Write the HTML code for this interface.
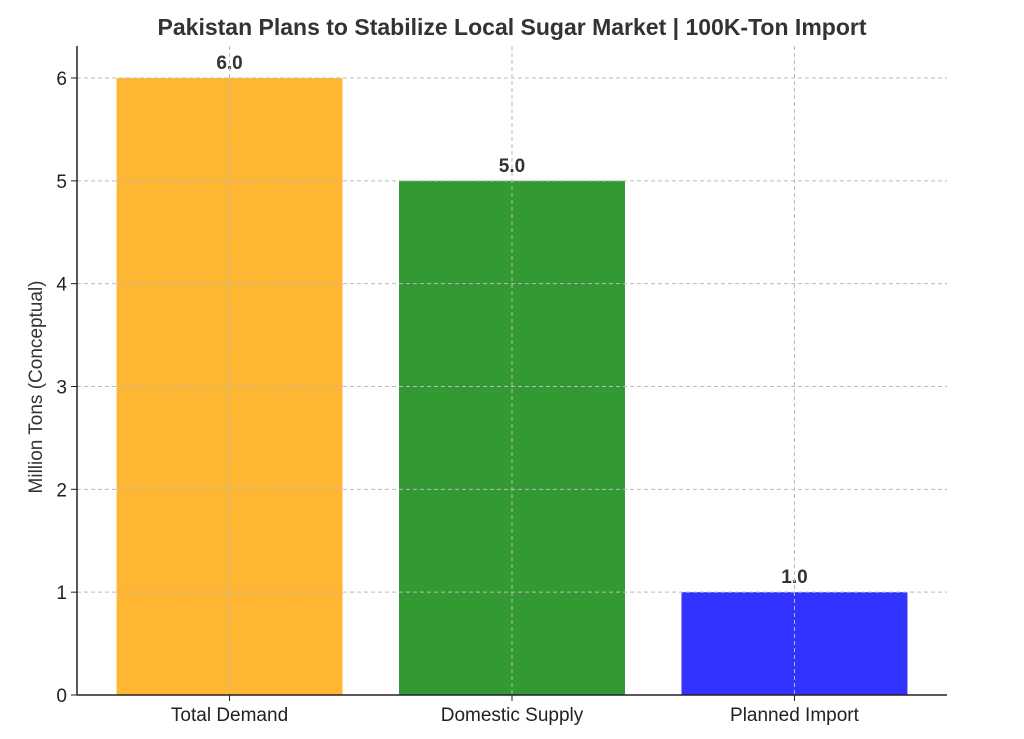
<!DOCTYPE html>
<html><head><meta charset="utf-8"><style>
html,body{margin:0;padding:0;background:#fff;}
svg{display:block;font-family:"Liberation Sans","DejaVu Sans",sans-serif;}
</style></head><body>
<svg id="chart" width="1024" height="739" viewBox="0 0 1024 739">
<text x="512" y="35" text-anchor="middle" font-size="23" font-weight="bold" fill="#333">Pakistan Plans to Stabilize Local Sugar Market | 100K-Ton Import</text>
<text transform="translate(42,387) rotate(-90)" text-anchor="middle" font-size="19" fill="#333">Million Tons (Conceptual)</text>
<g id="bars"></g>
<g id="grid"></g>
<g id="ticks"></g>
<line x1="77" y1="695" x2="947" y2="695" stroke="#222" stroke-width="1.5"/>
<line x1="77" y1="46" x2="77" y2="695" stroke="#222" stroke-width="1.5"/>
</svg>
<script>
const categories = ["Total Demand", "Domestic Supply", "Planned Import"];
const values = [6.0, 5.0, 1.0];
const colors = ["#FFB733", "#339933", "#3333FF"];
const yTicks = [0, 1, 2, 3, 4, 5, 6];

const NS = "http://www.w3.org/2000/svg";
const left = 77, right = 947, bottom = 695, top6 = 78;
const xMin = -0.54, xMax = categories.length - 1 + 0.54;
function xScale(i){ return left + (i - xMin) / (xMax - xMin) * (right - left); }
function yScale(v){ return bottom - v / 6 * (bottom - top6); }
const bw = 0.8 * (xScale(1) - xScale(0));

function mk(tag, attrs, parent){
  const e = document.createElementNS(NS, tag);
  for (const k in attrs) e.setAttribute(k, attrs[k]);
  parent.appendChild(e);
  return e;
}
const barsG = document.getElementById("bars");
const gridG = document.getElementById("grid");
const ticksG = document.getElementById("ticks");

categories.forEach((c, i) => {
  const cx = xScale(i), y = yScale(values[i]);
  const r = mk("rect", {x: cx - bw/2, y: y, width: bw, height: bottom - y, fill: colors[i]}, barsG);
  
  
  const t = mk("text", {x: cx, y: y - 9, "text-anchor": "middle", "font-size": "19", "font-weight": "bold", fill: "#333"}, barsG);
  t.textContent = values[i].toFixed(1);
  
  
  const g = mk("line", {x1: cx, x2: cx, y1: 46, y2: bottom, stroke: "#bbb", "stroke-dasharray": "4,3", "stroke-width": "1"}, gridG);
  
  
  const tk = mk("line", {x1: cx, x2: cx, y1: bottom, y2: bottom + 6, stroke: "#222"}, ticksG);
  
  
  const lb = mk("text", {x: cx, y: bottom + 26, "text-anchor": "middle", "font-size": "19", fill: "#222"}, ticksG);
  lb.textContent = c;
  
  
});

yTicks.forEach(v => {
  const y = yScale(v);
  const g = mk("line", {x1: left, x2: right, y1: y, y2: y, stroke: "#bbb", "stroke-dasharray": "4,3", "stroke-width": "1"}, gridG);
  
  
  const tk = mk("line", {x1: left - 6, x2: left, y1: y, y2: y, stroke: "#222"}, ticksG);
  
  
  const lb = mk("text", {x: left - 10, y: y + 7, "text-anchor": "end", "font-size": "19", fill: "#222"}, ticksG);
  lb.textContent = v;
  
  
});
</script>
</body></html>
